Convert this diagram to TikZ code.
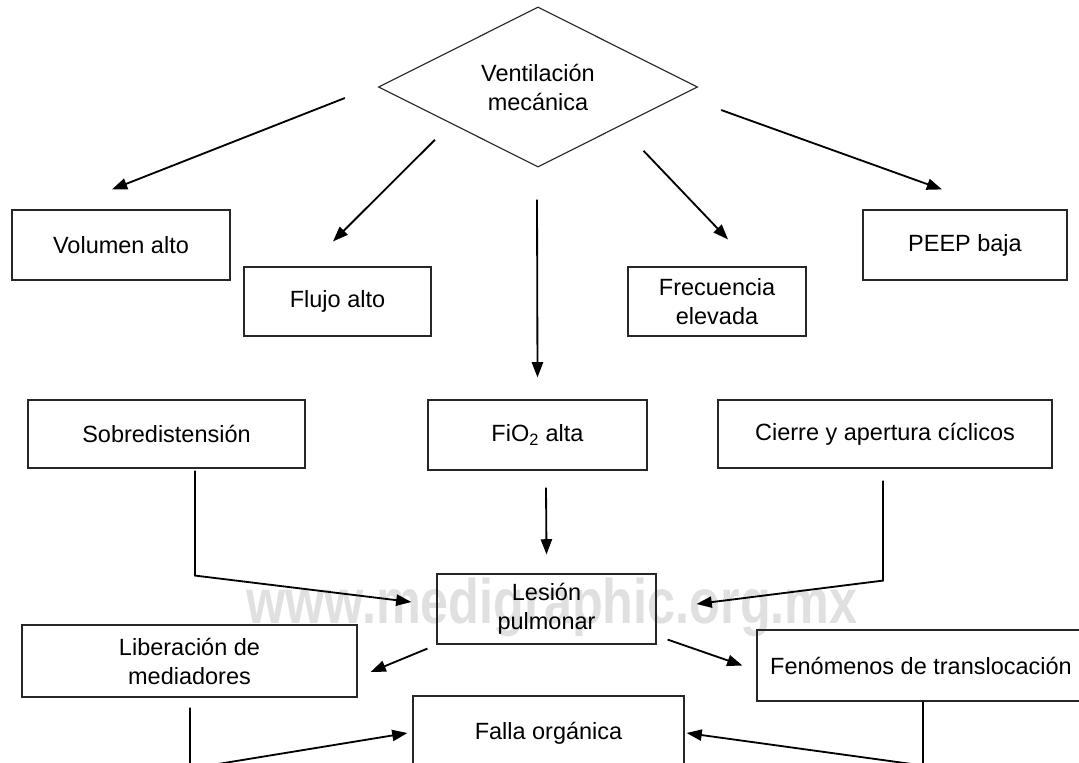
\documentclass[tikz,border=0pt]{standalone}
\usepackage{fontspec}
\setmainfont{Liberation Sans}
\usetikzlibrary{shapes.geometric,arrows.meta}
\tikzset{
   main node/.style={rectangle,draw=black!85,line width=0.8pt,inner sep=0pt,align=center,font=\fontsize{16.7}{20.6}\selectfont},
   decision node/.style={main node,diamond,minimum width=7.975cm,minimum height=3.675cm},
   mark node/.style={black!12,inner sep=0pt,anchor=base,xscale=0.8,font=\fontsize{44.8}{50}\selectfont\bfseries}
}

\begin{document}
\begin{tikzpicture}[x=0.025cm,y=-0.025cm,->,>={Triangle[length=0.38cm,width=0.28cm]},line width=1.3pt]
\clip (0,0) rectangle (1079,763);
% watermark
\node[mark node] (mark) at (552,623) {www.medigraphic.org.mx};

% ventilation
\node[decision node] (vent) at (538,87) {Ventilación\\mecánica};

% settings
\node[main node, minimum width=5.45cm, minimum height=1.75cm] (volumen) at (121,245) {Volumen alto};
\node[main node, minimum width=4.675cm, minimum height=1.725cm] (flujo) at (337.5,301.5) {Flujo alto};
\node[main node, minimum width=4.45cm, minimum height=1.725cm] (frec) at (717,301.5) {Frecuencia\\elevada};
\node[main node, minimum width=5.1cm, minimum height=1.75cm] (peep) at (965,245) {PEEP baja};

% mechanisms
\node[main node, minimum width=6.925cm, minimum height=1.7cm] (sobre) at (166.5,434) {Sobredistensión};
\node[main node, minimum width=5.475cm, minimum height=1.75cm] (fio) at (537.5,435) {FiO\textsubscript{2} alta};
\node[main node, minimum width=8.35cm, minimum height=1.7cm] (cierre) at (885,434) {Cierre y apertura cíclicos};

% injury
\node[main node, minimum width=5.475cm, minimum height=1.75cm] (lesion) at (546.5,609) {Lesión\\pulmonar};
\node[main node, minimum width=8.375cm, minimum height=1.8cm] (liber) at (189.5,661) {Liberación de\\mediadores};
\node[main node, minimum width=8.2cm, minimum height=1.775cm] (fenom) at (921,665.5) {Fenómenos de translocación};
\node[main node, minimum width=6.775cm, minimum height=1.85cm] (falla) at (548.5,733) {Falla orgánica};

\draw ([shift={(-33,11)}]vent.west) -- ([shift={(-9,-20)}]volumen.north);
\draw ([shift={(-23,12.5)}]vent.south west) -- ([shift={(-4.5,-25)}]flujo.north);
\draw ([shift={(-1,32)}]vent.south) -- ([shift={(0,-22)}]fio.north);
\draw ([shift={(25.5,23.5)}]vent.south east) -- ([shift={(11,-27)}]frec.north);
\draw ([shift={(23,23)}]vent.east) -- ([shift={(-23,-20)}]peep.north);

\draw ([shift={(8.5,17)}]fio.south) -- ([shift={(0,-19)}]lesion.north);
\draw ([shift={(28.5,2)}]sobre.south) -- ++(0,105) -- ([shift={(-25,-7)}]lesion.west);
\draw ([shift={(-2,12)}]cierre.south) -- ++(0,100) -- ([shift={(40,-5)}]lesion.east);

\draw ([shift={(-9,4)}]lesion.south west) -- ([shift={(13,11)}]liber.east);
\draw ([shift={(11,-5)}]lesion.south east) -- ([shift={(-14,0)}]fenom.west);

\draw ([shift={(0.5,10)}]liber.south) -- ++(0,61) -- ([shift={(-5,0)}]falla.west);
\draw ([shift={(2,0)}]fenom.south) -- ++(0,64) -- ([shift={(2,0)}]falla.east);
\end{tikzpicture}
\end{document}
